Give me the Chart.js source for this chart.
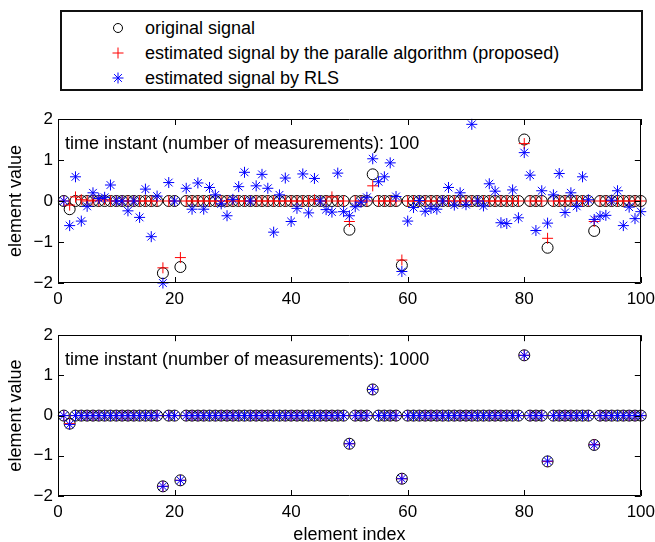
<!DOCTYPE html>
<html>
<head>
<meta charset="utf-8">
<script src="https://cdn.jsdelivr.net/npm/chart.js@4.4.1/dist/chart.umd.min.js"></script>
<style>
  body { margin: 0; background: #fff; font-family: "Liberation Sans", Arial, sans-serif; }
  #fig { position: relative; width: 655px; height: 542px; overflow: hidden; }
  .panel { position: absolute; left: 0; width: 655px; }
  #legend {
    position: absolute; left: 60px; top: 10px; width: 579px; height: 77px;
    border: 2px solid #111; font-size: 18px; color: #000;
  }
  .row { position: absolute; left: 0; height: 24px; line-height: 24px; white-space: nowrap; }
  .row svg { position: absolute; left: 48px; top: 4px; }
  .row span { position: absolute; left: 83px; top: 0; }
</style>
</head>
<body>
<div id="fig">
  <div id="legend">
    <div class="row" style="top:4px">
      <svg width="16" height="16"><circle cx="8" cy="8" r="4.5" fill="none" stroke="#000" stroke-width="1"/></svg>
      <span>original signal</span>
    </div>
    <div class="row" style="top:29px">
      <svg width="16" height="16"><path d="M8 2.5V13.5M2.5 8H13.5" stroke="#f00" stroke-width="1"/></svg>
      <span>estimated signal by the paralle algorithm (proposed)</span>
    </div>
    <div class="row" style="top:54px">
      <svg width="16" height="16"><path d="M8 2.5V13.5M2.5 8H13.5M4.1 4.1L11.9 11.9M11.9 4.1L4.1 11.9" stroke="#00f" stroke-width="1"/></svg>
      <span>estimated signal by RLS</span>
    </div>
  </div>
  <div class="panel" style="top:100px;height:220px"><canvas id="top"></canvas></div>
  <div class="panel" style="top:320px;height:222px"><canvas id="bottom"></canvas></div>
</div>
<script>
// element values, index 1..100 (row = 10 elements)
const originalSignal = [
  0, -0.2, 0, 0, 0, 0, 0, 0, 0, 0,
  0, 0, 0, 0, 0, 0, 0, -1.76, 0, 0,
  -1.61, 0, 0, 0, 0, 0, 0, 0, 0, 0,
  0, 0, 0, 0, 0, 0, 0, 0, 0, 0,
  0, 0, 0, 0, 0, 0, 0, 0, 0, -0.7,
  0, 0, 0, 0.65, 0, 0, 0, 0, -1.57, 0,
  0, 0, 0, 0, 0, 0, 0, 0, 0, 0,
  0, 0, 0, 0, 0, 0, 0, 0, 0, 1.5,
  0, 0, 0, -1.14, 0, 0, 0, 0, 0, 0,
  0, -0.73, 0, 0, 0, 0, 0, 0, 0, 0
];

// time instant 100
const parallel100 = [
  0, -0.1, 0.1, 0.03, 0, 0.02, 0, 0.03, 0, 0,
  0, 0, 0, 0, 0, 0, 0, -1.63, 0, 0,
  -1.38, 0, 0, 0, 0, 0, 0, 0, 0, 0,
  0, 0, 0, 0, 0, 0, 0, 0, 0, 0,
  0, 0, 0, 0.03, 0, 0, 0.1, 0, 0, -0.5,
  0, 0, 0, 0.37, 0, 0, 0, 0, -1.44, 0,
  0, 0, 0, 0, 0, 0, 0, 0, 0, 0,
  0, 0, 0, 0, 0, 0, 0, 0, 0, 1.4,
  0, 0, 0, -0.91, 0, 0, 0, 0, 0, 0,
  0, -0.5, 0, 0, 0, 0, 0, 0, 0, 0
];
const rls100 = [
  0, -0.6, 0.59, -0.49, -0.13, 0.2, 0.06, 0.09, 0.39, 0,
  0, -0.24, 0, -0.4, 0.29, -0.87, 0.12, -2.0, 0.45, 0,
  -2.4, 0.31, -0.2, 0.44, -0.2, 0.33, 0.15, -0.07, -0.36, 0.04,
  0.35, 0.7, 0, 0.37, 0.65, 0.31, -0.76, 0.15, 0.56, -0.5,
  -0.18, 0.66, -0.29, 0.55, 0, -0.21, -0.27, 0.68, -0.26, -0.36,
  -0.14, -0.03, 0.09, 1.03, 0.47, 0.59, 0.93, 0.11, -1.72, -0.49,
  -0.16, 0.01, -0.25, -0.18, -0.2, 0, 0.33, -0.1, 0.2, -0.09,
  1.87, 0, -0.12, 0.42, 0.24, -0.53, -0.55, 0.27, -0.41, 1.18,
  0.63, -0.72, 0.25, -0.54, 0.15, 0.67, -0.28, 0.2, -0.13, 0.59,
  0.03, -0.45, -0.37, -0.35, 0.02, 0.25, -0.6, -0.15, -0.43, -0.26
];

// time instant 1000
const parallel1000 = [
  0, -0.2, 0, 0, 0, 0, 0, 0, 0, 0,
  0, 0, 0, 0, 0, 0, 0, -1.76, 0, 0,
  -1.61, 0, 0, 0, 0, 0, 0, 0, 0, 0,
  0, 0, 0, 0, 0, 0, 0, 0, 0, 0,
  0, 0, 0, 0, 0, 0, 0, 0, 0, -0.7,
  0, 0, 0, 0.65, 0, 0, 0, 0, -1.57, 0,
  0, 0, 0, 0, 0, 0, 0, 0, 0, 0,
  0, 0, 0, 0, 0, 0, 0, 0, 0, 1.5,
  0, 0, 0, -1.14, 0, 0, 0, 0, 0, 0,
  0, -0.72, 0, 0, 0, 0, 0, 0, 0, 0
];
const rls1000 = [
  0, -0.22, 0, 0, 0, 0, 0, 0, 0, 0,
  0, 0, 0, 0, 0, 0, 0, -1.76, 0, 0,
  -1.61, 0, 0, 0, 0, 0, 0, 0, 0, 0,
  0, 0, 0, 0, 0, 0, 0, 0, 0, 0,
  0, 0, 0, 0, 0, 0, 0, 0, 0, -0.7,
  0, 0, 0, 0.65, 0, 0, 0, 0, -1.57, 0,
  0, 0, 0, 0, 0, 0, 0, 0, 0, 0,
  0, 0, 0, 0, 0, 0, 0, 0, 0, 1.5,
  0, 0, 0, -1.13, 0, 0, 0, 0, 0, 0,
  0, -0.73, 0, 0, 0, 0, 0, 0, 0, 0
];

const xTicks = [0, 20, 40, 60, 80, 100];
const yTicks = [-2, -1, 0, 1, 2];
const FONT = '"Liberation Sans", Arial, sans-serif';

function toPoints(values) {
  return values.map((v, i) => ({ x: i + 1, y: v }));
}

// MATLAB style box with inward ticks + the text annotation
const axesBox = {
  id: 'axesBox',
  afterDraw(chart, args, opts) {
    const { ctx, chartArea: a, scales: { x, y } } = chart;
    ctx.save();
    ctx.strokeStyle = '#000';
    ctx.lineWidth = 1;
    ctx.beginPath();
    ctx.rect(Math.round(a.left) + 0.5, Math.round(a.top) + 0.5,
             Math.round(a.right - a.left) - 1, Math.round(a.bottom - a.top) - 1);
    xTicks.forEach(t => {
      const px = Math.round(x.getPixelForValue(t)) + 0.5;
      ctx.moveTo(px, a.bottom); ctx.lineTo(px, a.bottom - 6);
      ctx.moveTo(px, a.top); ctx.lineTo(px, a.top + 6);
    });
    yTicks.forEach(t => {
      const py = Math.round(y.getPixelForValue(t)) + 0.5;
      ctx.moveTo(a.left, py); ctx.lineTo(a.left + 6, py);
      ctx.moveTo(a.right, py); ctx.lineTo(a.right - 6, py);
    });
    ctx.stroke();
    ctx.fillStyle = '#000';
    ctx.font = '18px ' + FONT;
    ctx.textBaseline = 'middle';
    ctx.fillText(opts.text, a.left + 7, a.top + 25);
    ctx.restore();
  }
};

function makePanel(id, orig, par, rls, caption, padTop, xHeight, xTitle) {
  return new Chart(document.getElementById(id), {
    type: 'scatter',
    data: {
      datasets: [
        { label: 'original signal', data: toPoints(orig), order: 3,
          pointStyle: 'circle', pointRadius: 5.5, borderColor: '#000',
          backgroundColor: 'rgba(0,0,0,0)', borderWidth: 1 },
        { label: 'estimated signal by the paralle algorithm (proposed)', data: toPoints(par), order: 2,
          pointStyle: 'cross', pointRadius: 5.5, borderColor: '#ff0000', borderWidth: 1 },
        { label: 'estimated signal by RLS', data: toPoints(rls), order: 1,
          pointStyle: 'star', pointRadius: 5.5, borderColor: '#0000ff', borderWidth: 1 }
      ]
    },
    options: {
      responsive: true,
      maintainAspectRatio: false,
      animation: false,
      clip: 6,
      layout: { padding: { top: padTop, right: 14, left: 0, bottom: 0 } },
      plugins: {
        legend: { display: false },
        tooltip: { enabled: false },
        axesBox: { text: caption }
      },
      scales: {
        x: {
          type: 'linear', min: 0, max: 100,
          afterBuildTicks: s => { s.ticks = xTicks.map(v => ({ value: v })); },
          afterFit: s => { s.height = xHeight; },
          grid: { display: false, drawTicks: true, tickLength: 6 },
          border: { display: false },
          ticks: { color: '#000', font: { family: FONT, size: 17 }, padding: 0, maxRotation: 0 },
          title: { display: !!xTitle, text: xTitle || '', color: '#000',
                   font: { family: FONT, size: 18, lineHeight: 1 }, padding: { top: 0, bottom: -2 } }
        },
        y: {
          type: 'linear', min: -2, max: 2,
          afterBuildTicks: s => { s.ticks = yTicks.map(v => ({ value: v })); },
          afterFit: s => { s.width = 58; },
          grid: { display: false, drawTicks: false },
          border: { display: false },
          ticks: { color: '#000', font: { family: FONT, size: 17 }, padding: 5,
                   callback: v => (v < 0 ? '\u2212' + Math.abs(v) : String(v)) },
          title: { display: true, text: 'element value', color: '#000',
                   font: { family: FONT, size: 18, lineHeight: 1.2 }, padding: { top: 5, bottom: 0 } }
        }
      }
    },
    plugins: [axesBox]
  });
}

makePanel('top', originalSignal, parallel100, rls100,
  'time instant (number of measurements): 100', 19, 37, null);
makePanel('bottom', originalSignal, parallel1000, rls1000,
  'time instant (number of measurements): 1000', 12, 46, 'element index');
</script>
</body>
</html>
